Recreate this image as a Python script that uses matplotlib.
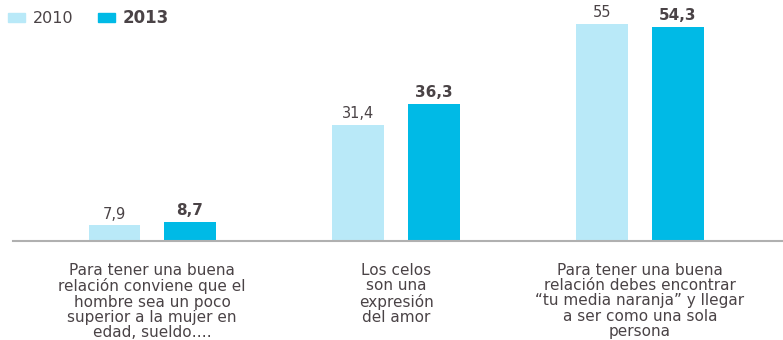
import numpy as np
import matplotlib
matplotlib.use("Agg")
import matplotlib.pyplot as plt
from matplotlib.patches import Patch

plt.rcParams['font.family'] = ['DejaVu Sans']

categories = ["Para tener una buena\nrelación conviene que el\nhombre sea un poco\nsuperior a la mujer en\nedad, sueldo\u2026.",
              "Los celos\nson una\nexpresión\ndel amor",
              "Para tener una buena\nrelación debes encontrar\n\u201ctu media naranja\u201d y llegar\na ser como una sola\npersona"]
v2010 = [7.9, 31.4, 55]
v2013 = [8.7, 36.3, 54.3]
labels2010 = ["7,9", "31,4", "55"]
labels2013 = ["8,7", "36,3", "54,3"]

c2010 = "#b9e9f8"
c2013 = "#00bae6"
txt = "#4a4346"

fig = plt.figure(figsize=(7.83, 3.40), dpi=100)
ax = fig.add_axes([13/783, 99/340, 1 - 13/783, 1 - 99/340])

x = np.arange(len(categories))
off = 0.154
w = 0.213
b1 = ax.bar(x - off, v2010, w, color=c2010, label="2010")
b2 = ax.bar(x + off, v2013, w, color=c2013, label="2013")

for i in range(len(x)):
    ax.text(x[i] - off, v2010[i] + 0.8, labels2010[i], ha='center', va='bottom',
            fontsize=10.5, color=txt)
    ax.text(x[i] + off, v2013[i] + 0.8, labels2013[i], ha='center', va='bottom',
            fontsize=11, color=txt, fontweight='bold')
    ax.text(x[i], 4.2 - 5.2, categories[i], ha='center', va='top', fontsize=11,
            color=txt, linespacing=1.01, clip_on=False)

ax.set_xlim(-0.57, 2.586)
ax.set_ylim(4.2, 60.5)
ax.set_xticks([])
ax.set_yticks([])
for s in ['top', 'right', 'left']:
    ax.spines[s].set_visible(False)
ax.spines['bottom'].set_color('#b0b0b0')
ax.spines['bottom'].set_linewidth(1.5)

# cut-off subtitle at the very top
fig.text(8/783, 1 - 0.5/340, "los han sostenido a menudo o muchas veces", fontsize=13,
         color=txt, va='baseline', ha='left')

leg = fig.legend(handles=[Patch(color=c2010), Patch(color=c2013)], labels=["2010", "2013"],
                 loc='upper left', bbox_to_anchor=(8/783, 1 - 9/340), ncol=2, frameon=False,
                 fontsize=11.5, handlelength=1.07, handleheight=0.5, handletextpad=0.5,
                 columnspacing=1.5, borderaxespad=0, borderpad=0)
for t in leg.get_texts():
    t.set_color(txt)
leg.get_texts()[1].set_fontweight('bold')
leg.get_texts()[1].set_fontsize(12)

fig.savefig("out.png", dpi=100)
